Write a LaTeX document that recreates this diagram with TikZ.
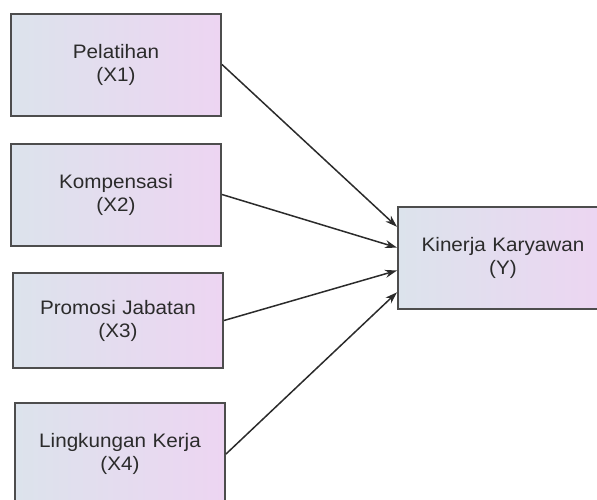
\documentclass[tikz,border=0pt]{standalone}
\usepackage{xcolor}
\usepackage{tikz}
\usepackage{fontspec}
\setmainfont[FakeStretch=1.06]{Liberation Sans}
\usetikzlibrary{arrows.meta, positioning, calc}

\definecolor{boxleft}{HTML}{DCE3EC}
\definecolor{boxright}{HTML}{EDD5F2}
\definecolor{boxline}{HTML}{4D4D4D}
\definecolor{txt}{HTML}{2B2B2B}

\begin{document}
\begin{tikzpicture}[
    x=1pt, y=-1pt,
    var/.style={rectangle, draw=boxline, line width=2pt, left color=boxleft, right color=boxright,
        text=txt, text width=200pt, align=center, minimum width=210pt, minimum height=102pt,
        font=\fontsize{19.5}{23}\selectfont},
    arrow/.style={-{Stealth[length=12pt, width=8pt]}, line width=1.5pt, draw=txt}
]
\useasboundingbox (0,0) rectangle (597,499);
\clip (0,0) rectangle (597,499);

\node[var] (pelatihan) at (116,64.5) {Pelatihan\\(X1)};
\node[var] (kompensasi) at (116,194.5) {Kompensasi\\(X2)};
\node[var, minimum height=95pt] (promosi) at (118,320.5) {Promosi Jabatan\\(X3)};
\node[var] (lingkungan) at (120,454) {Lingkungan Kerja\\(X4)};

\node[var] (kinerja) at (503,258) {Kinerja Karyawan\\(Y)};

% entry points on the left side of the dependent box
\coordinate (in1) at ($(kinerja.north west)!0.2!(kinerja.south west)$);
\coordinate (in2) at ($(kinerja.north west)!0.4!(kinerja.south west)$);
\coordinate (in3) at ($(kinerja.north west)!0.62!(kinerja.south west)$);
\coordinate (in4) at ($(kinerja.north west)!0.83!(kinerja.south west)$);

\draw[arrow] (pelatihan.east) -- (in1);
\draw[arrow] (kompensasi.east) -- (in2);
\draw[arrow] (promosi.east) -- (in3);
\draw[arrow] (lingkungan.east) -- (in4);

\end{tikzpicture}
\end{document}
